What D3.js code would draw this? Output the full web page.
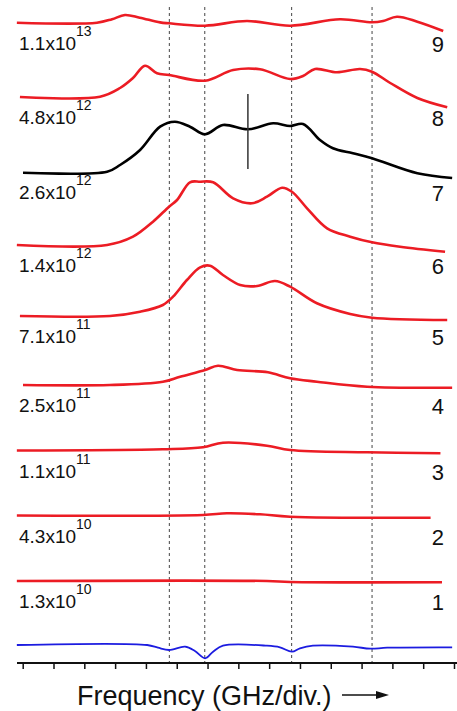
<!DOCTYPE html>
<html>
<head>
<meta charset="utf-8">
<script src="https://cdn.jsdelivr.net/npm/d3@7"></script>
<style>
  body { margin: 0; background: #fff; }
  svg { display: block; font-family: "Liberation Sans", Arial, sans-serif; }
</style>
</head>
<body>
<div id="chart"></div>
<script>
// frequency in divisions, signal in arb. units above each trace's offset
const trace1 = [[-0.19,0],[7.93,0],[8.68,-0.1],[13.61,-0.13]];
const trace2 = [[-0.19,0],[5.85,0.05],[6.63,0.22],[7.7,0.12],[8.68,-0.12],[13.24,-0.22]];
const trace3 = [[-0.19,0],[4.55,0.12],[5.85,0.32],[6.5,0.78],[7.93,0.48],[8.68,0.05],[11.18,-0.18],[13.56,-0.28]];
const trace4 = [[0.01,0],[2.83,0],[4.55,0.33],[5.11,0.83],[5.92,1.5],[6.34,1.93],[6.96,1.5],[7.96,1.27],[8.68,0.67],[9.55,0.33],[11.18,-0.17],[13.94,-0.27]];
const trace5 = [[-0.09,0],[2.83,0],[3.81,0.43],[4.55,1.1],[4.88,1.93],[5.33,3.6],[5.76,4.87],[6.08,5.03],[6.5,4.1],[7.06,3.1],[7.61,3.0],[8.19,3.5],[8.68,2.93],[9.55,1.27],[10.63,0.2],[11.34,-0.17],[13.78,-0.4]];
const trace6 = [[-0.19,0],[2.74,0],[3.58,0.83],[4.23,2.33],[4.75,3.83],[5.01,4.5],[5.43,6.27],[5.76,6.33],[6.18,6.27],[6.83,4.67],[7.44,4.17],[7.93,4.83],[8.42,5.73],[8.74,5.33],[9.23,3.67],[9.88,1.67],[10.63,0.83],[11.34,0.27],[12.25,-0.17],[13.71,-0.67]];
const trace7 = [[0.01,-0.07],[2.74,0.03],[3.16,0.7],[3.81,2.2],[4.46,4.53],[4.94,5.03],[5.43,4.53],[5.92,3.77],[6.5,4.7],[7.31,4.27],[8.13,4.87],[8.68,4.6],[9.1,4.8],[9.65,3.2],[10.07,2.37],[10.72,1.87],[11.34,1.37],[12.81,-0.13],[13.94,-0.6]];
const trace8 = [[-0.09,0],[2.51,0.03],[3.16,0.9],[3.58,1.9],[3.97,3.13],[4.36,2.37],[4.75,2.2],[5.92,1.63],[6.83,2.7],[7.7,2.77],[8.68,1.8],[9.1,2.1],[9.49,2.8],[10.2,2.47],[10.95,2.8],[11.34,2.53],[11.93,1.4],[12.81,-0.1],[13.78,-1.03]];
const trace9 = [[-0.19,0],[2.41,0],[2.9,0.35],[3.32,0.77],[3.8,0.5],[4.46,0.03],[4.75,-0.06],[5.92,-0.3],[7.28,0.17],[8.68,-0.3],[10.3,0.34],[11.34,0.04],[11.7,0.17],[12.15,0.6],[12.81,0.1],[13.65,-0.83]];
const reference = [[-0.19,0],[4.04,0],[4.39,-0.27],[4.75,-0.5],[5.27,-0.17],[5.59,-0.6],[5.92,-1.33],[6.18,-0.67],[6.5,-0.07],[7.93,-0.07],[8.35,-0.23],[8.74,-0.67],[9.0,-0.33],[9.42,-0.07],[10.72,-0.17],[11.28,-0.37],[11.83,-0.27],[13.94,-0.23]];

const traces = [trace1, trace2, trace3, trace4, trace5, trace6, trace7, trace8, trace9];
const offsets = [8.2, 14.75, 21.25, 27.8, 34.7, 41.8, 49.1, 56.6, 64.03];
const traceColors = ["red", "red", "red", "red", "red", "red", "black", "red", "red"];
const mantissas = ["1.3", "4.3", "1.1", "2.5", "7.1", "1.4", "2.6", "4.8", "1.1"];
const exponents = ["10", "10", "11", "11", "11", "12", "12", "12", "13"];
const traceNumbers = ["1", "2", "3", "4", "5", "6", "7", "8", "9"];
const referenceOffset = 1.8;
const dashedLines = [4.76, 5.91, 8.73, 11.34];
const marker = { x: 7.31, y0: 49.4, y1: 56.9 };
const ticks = d3.range(0, 15);

const width = 457, height = 711;
const svg = d3.select("#chart").append("svg")
  .attr("width", width)
  .attr("height", height);

const x = d3.scaleLinear().domain([0, 14]).range([22.7, 454]);
const y = d3.scaleLinear().domain([0, 66]).range([663, 3]);

const red = "#ec1c24";
const colorOf = c => c === "red" ? red : "#000";

// dashed guides
svg.selectAll(".guide")
  .data(dashedLines)
  .enter()
  .append("line")
  .attr("class", "guide")
  .attr("x1", d => x(d)).attr("x2", d => x(d))
  .attr("y1", 7).attr("y2", y(0))
  .attr("stroke", "#444")
  .attr("stroke-width", 1)
  .attr("stroke-dasharray", "3,3");

const line = d3.line()
  .x(d => x(d[0]))
  .curve(d3.curveCatmullRom.alpha(0.5));

traces.forEach((t, i) => {
  line.y(d => y(offsets[i] + d[1]));
  svg.append("path")
    .attr("d", line(t))
    .attr("fill", "none")
    .attr("stroke", colorOf(traceColors[i]))
    .attr("stroke-width", 2.6)
    .attr("stroke-linejoin", "round");

  const base = y(offsets[i]);
  const lab = svg.append("text")
    .attr("x", 19)
    .attr("y", base + 27)
    .style("font-size", "19px")
    .style("fill", "#111");
  lab.append("tspan").text(mantissas[i] + "x10");
  lab.append("tspan")
    .attr("dy", -14)
    .style("font-size", "14px")
    .text(exponents[i]);

  svg.append("text")
    .attr("x", 444)
    .attr("y", base + 29)
    .attr("text-anchor", "end")
    .style("font-size", "22px")
    .style("fill", "#111")
    .text(traceNumbers[i]);
});

line.y(d => y(referenceOffset + d[1]));
svg.append("path")
  .attr("d", line(reference))
  .attr("fill", "none")
  .attr("stroke", "#1c1ce0")
  .attr("stroke-width", 1.8);

// marker on trace 7
svg.append("line")
  .attr("x1", x(marker.x)).attr("x2", x(marker.x))
  .attr("y1", y(marker.y1)).attr("y2", y(marker.y0))
  .attr("stroke", "#333")
  .attr("stroke-width", 1.5);

// bottom axis
const axis = d3.axisBottom(x).tickValues(ticks).tickSize(6).tickFormat("");
const axisG = svg.append("g")
  .attr("transform", `translate(0, ${y(0)})`)
  .call(axis);
axisG.select(".domain").remove();
axisG.selectAll(".tick line").attr("stroke", "#111").attr("stroke-width", 1.5);
axisG.append("line")
  .attr("x1", 17).attr("x2", 457)
  .attr("stroke", "#111")
  .attr("stroke-width", 2);

svg.append("text")
  .attr("x", 77)
  .attr("y", 705)
  .style("font-size", "27px")
  .style("fill", "#111")
  .text("Frequency (GHz/div.)");

svg.append("line")
  .attr("x1", 342).attr("x2", 378)
  .attr("y1", 695).attr("y2", 695)
  .attr("stroke", "#111")
  .attr("stroke-width", 1.5);
svg.append("path")
  .attr("d", "M376,691 L389,695 L376,699 Z")
  .attr("fill", "#111");
</script>
</body>
</html>
